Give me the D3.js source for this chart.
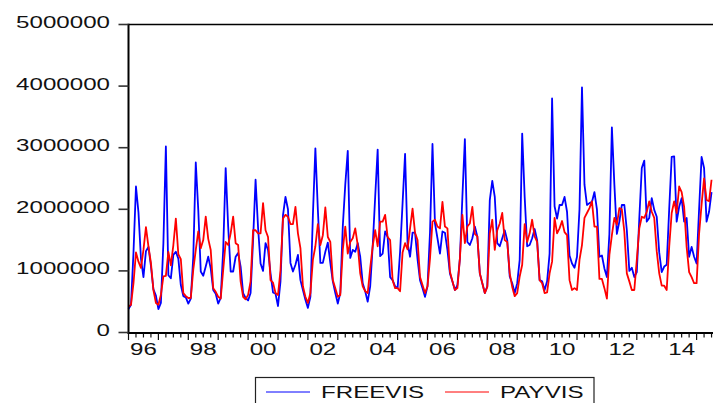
<!DOCTYPE html>
<html>
<head>
<meta charset="utf-8">
<script src="https://cdn.jsdelivr.net/npm/d3@7/dist/d3.min.js"></script>
<style>
  body { margin: 0; background: #fff; }
  text { font-family: "Liberation Sans", Arial, sans-serif; font-size: 17px; fill: #111; }
</style>
</head>
<body>
<script>
// monthly series from 1996M01, values in millions of visitors
const startYear = 1996;

const freevis = [
  0.38, 0.45, 1.30, 2.37, 1.95, 1.20, 0.90, 1.32, 1.39, 1.08, 0.70, 0.60,
  0.38, 0.48, 1.45, 3.02, 0.93, 0.88, 1.26, 1.31, 1.20, 0.77, 0.59, 0.57,
  0.47, 0.55, 1.23, 2.76, 1.99, 0.99, 0.92, 1.07, 1.23, 1.04, 0.69, 0.63,
  0.47, 0.56, 1.34, 2.67, 1.72, 0.99, 0.99, 1.23, 1.29, 1.07, 0.64, 0.56,
  0.52, 0.64, 1.50, 2.48, 1.70, 1.12, 1.00, 1.45, 1.34, 0.96, 0.65, 0.63,
  0.43, 0.83, 1.90, 2.20, 2.00, 1.13, 0.99, 1.10, 1.26, 0.85, 0.69, 0.53,
  0.40, 0.58, 1.90, 2.99, 1.99, 1.13, 1.13, 1.31, 1.46, 1.13, 0.83, 0.64,
  0.47, 0.64, 1.72, 2.40, 2.95, 1.21, 1.34, 1.31, 1.45, 1.23, 0.80, 0.67,
  0.50, 0.75, 1.40, 2.20, 2.97, 1.24, 1.28, 1.64, 1.55, 0.90, 0.85, 0.75,
  0.72, 1.31, 2.10, 2.90, 1.45, 1.23, 1.62, 1.62, 1.19, 0.85, 0.72, 0.58,
  0.75, 1.62, 3.06, 1.77, 1.53, 1.28, 1.64, 1.62, 1.34, 0.96, 0.83, 0.69,
  0.77, 1.20, 2.20, 3.14, 1.47, 1.42, 1.53, 1.72, 1.56, 0.96, 0.80, 0.64,
  0.75, 2.15, 2.46, 2.20, 1.45, 1.40, 1.53, 1.66, 1.50, 0.91, 0.80, 0.64,
  0.80, 1.18, 3.23, 2.20, 1.40, 1.42, 1.53, 1.68, 1.50, 0.85, 0.83, 0.69,
  0.83, 1.28, 3.80, 2.05, 1.85, 2.07, 2.07, 2.20, 1.96, 1.25, 1.12, 1.05,
  1.23, 2.00, 3.98, 2.40, 2.07, 2.10, 2.12, 2.28, 2.00, 1.23, 1.25, 1.04,
  0.90, 1.60, 3.33, 2.40, 1.60, 1.80, 2.07, 2.07, 1.66, 1.00, 1.05, 0.90,
  0.98, 1.85, 2.67, 2.79, 1.80, 1.86, 2.18, 1.99, 1.88, 1.30, 0.98, 1.07,
  1.10, 2.00, 2.85, 2.86, 1.80, 2.04, 2.18, 1.80, 1.86, 1.23, 1.39, 1.23,
  1.12, 2.00, 2.85, 2.67, 1.80, 1.96, 2.28
];

const payvis = [
  0.42, 0.45, 0.80, 1.30, 1.15, 1.05, 1.34, 1.71, 1.40, 1.13, 0.69, 0.48,
  0.45, 0.61, 0.91, 0.92, 1.31, 1.09, 1.42, 1.85, 1.27, 1.19, 0.64, 0.59,
  0.56, 0.56, 1.02, 1.34, 1.64, 1.37, 1.50, 1.88, 1.52, 1.34, 0.72, 0.66,
  0.58, 0.55, 1.01, 1.47, 1.42, 1.61, 1.88, 1.45, 1.42, 0.83, 0.58, 0.54,
  0.61, 0.83, 1.66, 1.66, 1.61, 1.61, 2.10, 1.66, 1.55, 0.85, 0.81, 0.64,
  0.61, 1.01, 1.85, 1.91, 1.88, 1.76, 1.76, 2.04, 1.61, 1.37, 0.75, 0.58,
  0.48, 0.64, 1.18, 1.40, 1.76, 1.42, 1.58, 2.03, 1.55, 1.47, 0.85, 0.72,
  0.58, 0.61, 1.34, 1.72, 1.28, 1.47, 1.53, 1.69, 1.42, 0.96, 0.75, 0.67,
  0.64, 1.04, 1.40, 1.66, 1.40, 1.80, 1.80, 1.91, 1.55, 1.50, 0.85, 0.72,
  0.72, 0.67, 1.30, 1.45, 1.35, 1.69, 2.01, 1.62, 1.50, 0.90, 0.77, 0.64,
  0.75, 1.20, 1.80, 1.83, 1.72, 1.69, 2.12, 1.72, 1.69, 0.99, 0.83, 0.69,
  0.72, 1.20, 1.91, 1.45, 1.72, 1.77, 2.04, 1.60, 1.56, 0.96, 0.80, 0.64,
  0.74, 1.61, 1.83, 1.34, 1.66, 1.77, 1.94, 1.50, 1.47, 0.96, 0.74, 0.59,
  0.64, 0.91, 1.10, 1.76, 1.47, 1.61, 1.83, 1.56, 1.47, 0.85, 0.80, 0.64,
  0.65, 0.96, 1.15, 1.86, 1.61, 1.69, 1.81, 1.63, 1.58, 0.85, 0.69, 0.72,
  0.69, 1.18, 1.42, 1.86, 1.94, 2.02, 2.13, 1.72, 1.72, 0.87, 0.87, 0.72,
  0.55, 1.26, 1.58, 1.86, 1.75, 2.02, 2.00, 1.64, 0.96, 0.83, 0.69, 0.69,
  1.18, 1.69, 1.88, 1.86, 1.96, 2.13, 1.96, 1.86, 1.32, 0.96, 0.76, 0.76,
  0.69, 1.39, 1.94, 2.13, 1.94, 2.37, 2.28, 2.04, 1.39, 0.98, 0.90, 0.80,
  0.80, 1.60, 2.08, 2.50, 2.15, 2.13, 2.48
];

const yTicks = [0, 1000000, 2000000, 3000000, 4000000, 5000000];
const labelYears = [1996, 1998, 2000, 2002, 2004, 2006, 2008, 2010, 2012, 2014];
const labelText = ["96", "98", "00", "02", "04", "06", "08", "10", "12", "14"];
const seriesNames = ["FREEVIS", "PAYVIS"];
const seriesColors = ["#0000ff", "#ff0000"];

const W = 713, H = 403;
const plotLeft = 128.5, plotTop = 24.5, plotBottom = 332.5;
const stretch = 1.42;

const svg = d3.select("body").append("svg")
  .attr("width", W).attr("height", H);

const x = d3.scaleLinear().domain([1996, 2015.65]).range([plotLeft, plotLeft + 19.65 * 29.9]);
const y = d3.scaleLinear().domain([0, 5000000]).range([plotBottom, plotTop]);

const line = d3.line()
  .x((d, i) => x(startYear + i / 12))
  .y(d => y(d * 1e6));

// plot lines (blue under red)
[freevis, payvis].forEach((s, k) => {
  svg.append("path")
    .datum(s)
    .attr("d", line)
    .attr("fill", "none")
    .attr("stroke", seriesColors[k])
    .attr("stroke-width", 1.8)
    .attr("stroke-linejoin", "round");
});

// frame: top line, left axis, bottom axis
svg.append("line").attr("x1", plotLeft).attr("x2", W).attr("y1", plotTop).attr("y2", plotTop)
  .attr("stroke", "#000").attr("stroke-width", 1.6);
svg.append("line").attr("x1", plotLeft).attr("x2", plotLeft).attr("y1", plotTop - 0.8).attr("y2", plotBottom + 1)
  .attr("stroke", "#000").attr("stroke-width", 2);
svg.append("line").attr("x1", plotLeft - 1).attr("x2", W).attr("y1", plotBottom + 0.5).attr("y2", plotBottom + 0.5)
  .attr("stroke", "#000").attr("stroke-width", 2);

// y ticks + labels
yTicks.forEach(v => {
  svg.append("line")
    .attr("x1", plotLeft - 10).attr("x2", plotLeft).attr("y1", y(v)).attr("y2", y(v))
    .attr("stroke", "#333").attr("stroke-width", 1.6);
  svg.append("text")
    .attr("transform", `translate(110,${y(v) + 3.5}) scale(${stretch},1)`)
    .attr("text-anchor", "end")
    .text(v);
});

// x ticks: quarterly minor, yearly major
const quarters = d3.range(0, 19.75 * 4).map(q => startYear + q / 4);
quarters.forEach(q => {
  const major = Math.abs(q - Math.round(q)) < 1e-6;
  svg.append("line")
    .attr("x1", x(q)).attr("x2", x(q))
    .attr("y1", plotBottom + 1).attr("y2", plotBottom + (major ? 7.5 : 5))
    .attr("stroke", "#111").attr("stroke-width", 1.2);
});

labelYears.forEach((yr, i) => {
  svg.append("text")
    .attr("transform", `translate(${x(yr + 0.5)},355) scale(${stretch},1)`)
    .attr("text-anchor", "middle")
    .text(labelText[i]);
});

// legend
const legend = svg.append("g");
legend.append("rect")
  .attr("x", 255.5).attr("y", 377.5).attr("width", 338.5).attr("height", 40)
  .attr("fill", "none").attr("stroke", "#222").attr("stroke-width", 1.2);
const legX = [266, 445];
seriesNames.forEach((name, k) => {
  legend.append("line")
    .attr("x1", legX[k]).attr("x2", legX[k] + 44)
    .attr("y1", 392).attr("y2", 392)
    .attr("stroke", seriesColors[k]).attr("stroke-width", 1);
  legend.append("text")
    .attr("transform", `translate(${legX[k] + 55},397.5) scale(${stretch},1)`)
    .text(name);
});
</script>
</body>
</html>
